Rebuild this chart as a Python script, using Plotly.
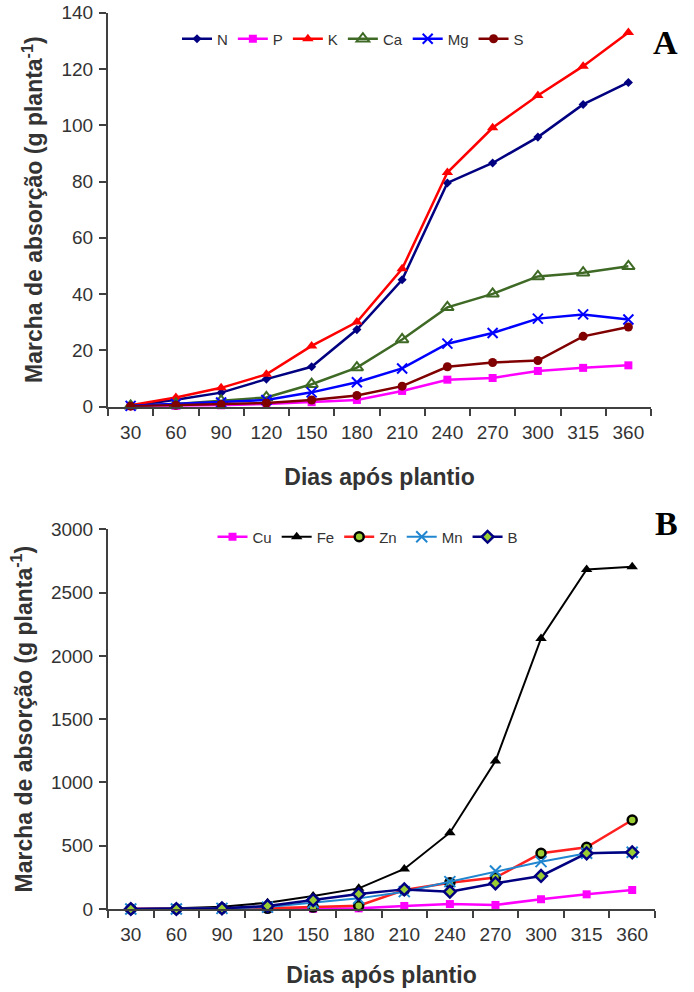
import plotly.graph_objects as go

days = ["30", "60", "90", "120", "150", "180", "210", "240", "270", "300", "315", "360"]

# Panel A - macronutrients
N = [0.3, 2.5, 5.0, 9.8, 14.2, 27.4, 45.1, 79.5, 86.6, 95.8, 107.4, 115.2]
P = [0.2, 0.3, 0.5, 1.0, 1.6, 2.4, 5.6, 9.6, 10.2, 12.7, 13.8, 14.7]
K = [0.5, 3.3, 6.7, 11.5, 21.6, 30.1, 49.0, 83.2, 99.1, 110.6, 121.0, 133.0]
Ca = [0.3, 1.0, 2.1, 3.3, 8.0, 13.9, 23.9, 35.3, 40.1, 46.3, 47.6, 49.9]
Mg = [0.3, 1.0, 1.5, 2.4, 5.1, 8.7, 13.6, 22.4, 26.2, 31.3, 32.8, 31.0]
S = [0.2, 0.5, 0.8, 1.3, 2.4, 4.0, 7.3, 14.2, 15.7, 16.4, 25.0, 28.3]

# Panel B - micronutrients
Cu = [0, 0, 0, 0, 2, 5, 24, 39, 32, 77, 116, 150]
Fe = [0, 5, 18, 50, 103, 163, 316, 603, 1169, 2138, 2683, 2704]
Zn = [0, 0, 5, 5, 15, 26, 150, 208, 248, 440, 487, 703]
Mn = [0, 0, 5, 15, 50, 84, 137, 216, 300, 374, 440, 448]
B = [0, 0, 5, 24, 71, 118, 155, 137, 203, 261, 440, 448]

W, H = 694, 992
AX = "#404040"
TXT = "#333333"
SANS = "Liberation Sans, Arial, sans-serif"


def xp(p):
    return p / W


def yp(p):
    return 1 - p / H


fig = go.Figure()


def add(x, y, name, color, symbol, size, xa, ya, legend, lw=2.5, mfill=None, mline=None, mlw=0):
    fig.add_trace(go.Scatter(
        x=x, y=y, name=name, mode="lines+markers", xaxis=xa, yaxis=ya, legend=legend,
        line=dict(color=color, width=lw),
        marker=dict(symbol=symbol, size=size, color=mfill if mfill else color,
                    line=dict(color=mline if mline else color, width=mlw)),
        cliponaxis=False,
    ))


add(days, N, "N", "#000080", "diamond", 7, "x", "y", "legend")
add(days, P, "P", "#FF00FF", "square", 8, "x", "y", "legend")
add(days, K, "K", "#FF0000", "triangle-up", 10, "x", "y", "legend")
add(days, Ca, "Ca", "#3F6A26", "triangle-up-open", 11, "x", "y", "legend", mlw=2)
add(days, Mg, "Mg", "#0000FF", "x-thin-open", 10, "x", "y", "legend", mlw=2)
add(days, S, "S", "#800000", "circle", 9, "x", "y", "legend")

add(days, Cu, "Cu", "#FF00FF", "square", 8, "x2", "y2", "legend2")
add(days, Fe, "Fe", "#000000", "triangle-up", 10, "x2", "y2", "legend2", lw=2)
add(days, Zn, "Zn", "#FF2020", "circle", 9, "x2", "y2", "legend2", mfill="#9ACD32", mline="#000000", mlw=2.5)
add(days, Mn, "Mn", "#2086D0", "x-thin-open", 11, "x2", "y2", "legend2", lw=2, mline="#1F5E9E", mlw=2)
add(days, B, "B", "#000080", "diamond", 9, "x2", "y2", "legend2", mfill="#9ACD32", mline="#000080", mlw=2.5)


def xaxis(domain, anchor, standoff):
    return dict(domain=domain, anchor=anchor, type="category", range=[-0.5, 11.5],
                tickson="boundaries", ticks="outside", ticklen=7, tickwidth=2, tickcolor=AX,
                showline=True, linecolor=AX, linewidth=2, showgrid=False, zeroline=False,
                tickfont=dict(family=SANS, size=19, color=TXT), automargin=False,
                ticklabelstandoff=7, ticklabeloverflow="allow",
                title=dict(text="<b>Dias após plantio</b>", font=dict(family=SANS, size=23, color=TXT),
                           standoff=standoff))


def yaxis(domain, anchor, rng, dtick):
    return dict(domain=domain, anchor=anchor, range=rng, dtick=dtick,
                ticks="outside", ticklen=7, tickwidth=2, tickcolor=AX,
                showline=True, linecolor=AX, linewidth=2, showgrid=False, zeroline=False,
                tickfont=dict(family=SANS, size=19, color=TXT), automargin=False,
                ticklabelstandoff=2, ticklabeloverflow="allow",
                title=dict(text="<b>Marcha de absorção (g planta<sup>-1</sup>)</b>",
                           font=dict(family=SANS, size=23, color=TXT), standoff=12))


fig.update_layout(
    width=W, height=H, margin=dict(l=0, r=0, t=0, b=0, autoexpand=False),
    paper_bgcolor="white", plot_bgcolor="white",
    xaxis=xaxis([xp(108), xp(651)], "y", 27),
    yaxis=yaxis([yp(406.7), yp(12.7)], "x", [0, 140], 20),
    xaxis2=xaxis([xp(108), xp(655)], "y2", 23),
    yaxis2=yaxis([yp(909), yp(529.3)], "x2", [0, 3000], 500),
    legend=dict(orientation="h", x=xp(353), xanchor="center", y=yp(39), yanchor="middle",
                font=dict(family=SANS, size=15, color=TXT), itemwidth=30, bgcolor="rgba(0,0,0,0)"),
    legend2=dict(orientation="h", x=xp(368), xanchor="center", y=yp(537), yanchor="middle",
                 font=dict(family=SANS, size=15, color=TXT), itemwidth=30, bgcolor="rgba(0,0,0,0)"),
    annotations=[
        dict(text="<b>A</b>", x=xp(680), y=yp(22), xref="paper", yref="paper",
             showarrow=False, font=dict(family="Liberation Serif, serif", size=34, color="black")),
        dict(text="<b>B</b>", x=xp(680), y=yp(523), xref="paper", yref="paper",
             showarrow=False, font=dict(family="Liberation Serif, serif", size=34, color="black")),
    ],
)

fig.write_html("out.html", config={"displayModeBar": False},
               post_script="document.body.style.margin='0px';")
